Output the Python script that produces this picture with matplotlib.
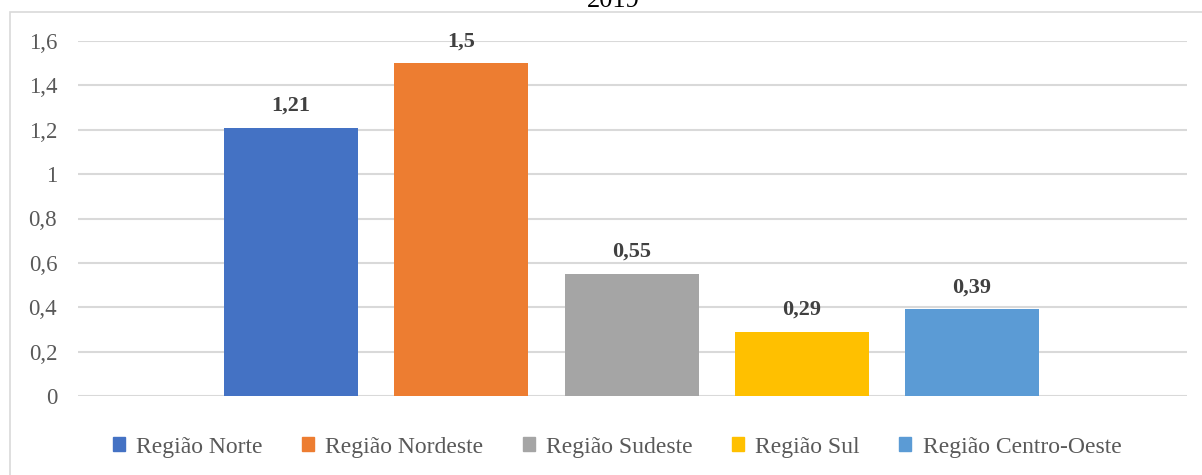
import matplotlib.pyplot as plt
from matplotlib.patches import Rectangle

# dados
regioes = ['Região Norte', 'Região Nordeste', 'Região Sudeste', 'Região Sul', 'Região Centro-Oeste']
valores = [1.21, 1.5, 0.55, 0.29, 0.39]
rotulos = ['1,21', '1,5', '0,55', '0,29', '0,39']
cores = ['#4472C4', '#ED7D31', '#A5A5A5', '#FFC000', '#5B9BD5']
yticks = [0, 0.2, 0.4, 0.6, 0.8, 1.0, 1.2, 1.4, 1.6]
ytick_labels = ['0', '0,2', '0,4', '0,6', '0,8', '1', '1,2', '1,4', '1,6']
titulo = '2019'

plt.rcParams['font.family'] = ['Liberation Serif', 'DejaVu Serif']

W, H = 1202, 475
fig = plt.figure(figsize=(W / 100, H / 100), dpi=100)

# moldura do grafico (cortada a direita e embaixo)
fig.patches.append(Rectangle((10 / W, -0.1), 1.2, 1 - 12 / H + 0.1, transform=fig.transFigure,
                             fill=False, edgecolor='#d9d9d9', linewidth=1.2))
fig.text(613 / W, 1 - 7 / H, titulo, ha='center', va='baseline', fontsize=19, color='black')

ax = fig.add_axes([78 / W, 1 - 396 / H, (1187 - 78) / W, (396 - 41) / H])

x = list(range(len(valores)))
bars = ax.bar(x, valores, width=0.787, color=cores, label=regioes, zorder=3)

for xi, v, lab in zip(x, valores, rotulos):
    ax.annotate(lab, (xi, v), xytext=(0, 12.3), textcoords='offset points',
                ha='center', va='baseline', fontsize=16, fontweight='bold', color='#404040')

ax.set_xlim(-1.251, 5.262)
ax.set_ylim(0, 1.6)
ax.set_yticks(yticks)
ax.set_yticklabels(ytick_labels, fontsize=16.5, color='#595959')
ax.set_xticks([])
ax.tick_params(axis='y', length=0, pad=15)
ax.grid(axis='y', color='#d9d9d9', linewidth=1.5, zorder=0)
for s in ax.spines.values():
    s.set_visible(False)

handles = [Rectangle((0, 0), 1, 1, color=c) for c in cores]
fig.legend(handles, regioes, loc='center', bbox_to_anchor=(617 / W, 1 - 447 / H), ncol=5,
           frameon=False, fontsize=17, handlelength=0.51, handleheight=0.51,
           handletextpad=0.49, columnspacing=1.65, labelcolor='#595959', borderpad=0)

fig.savefig('out.png', dpi=100)
